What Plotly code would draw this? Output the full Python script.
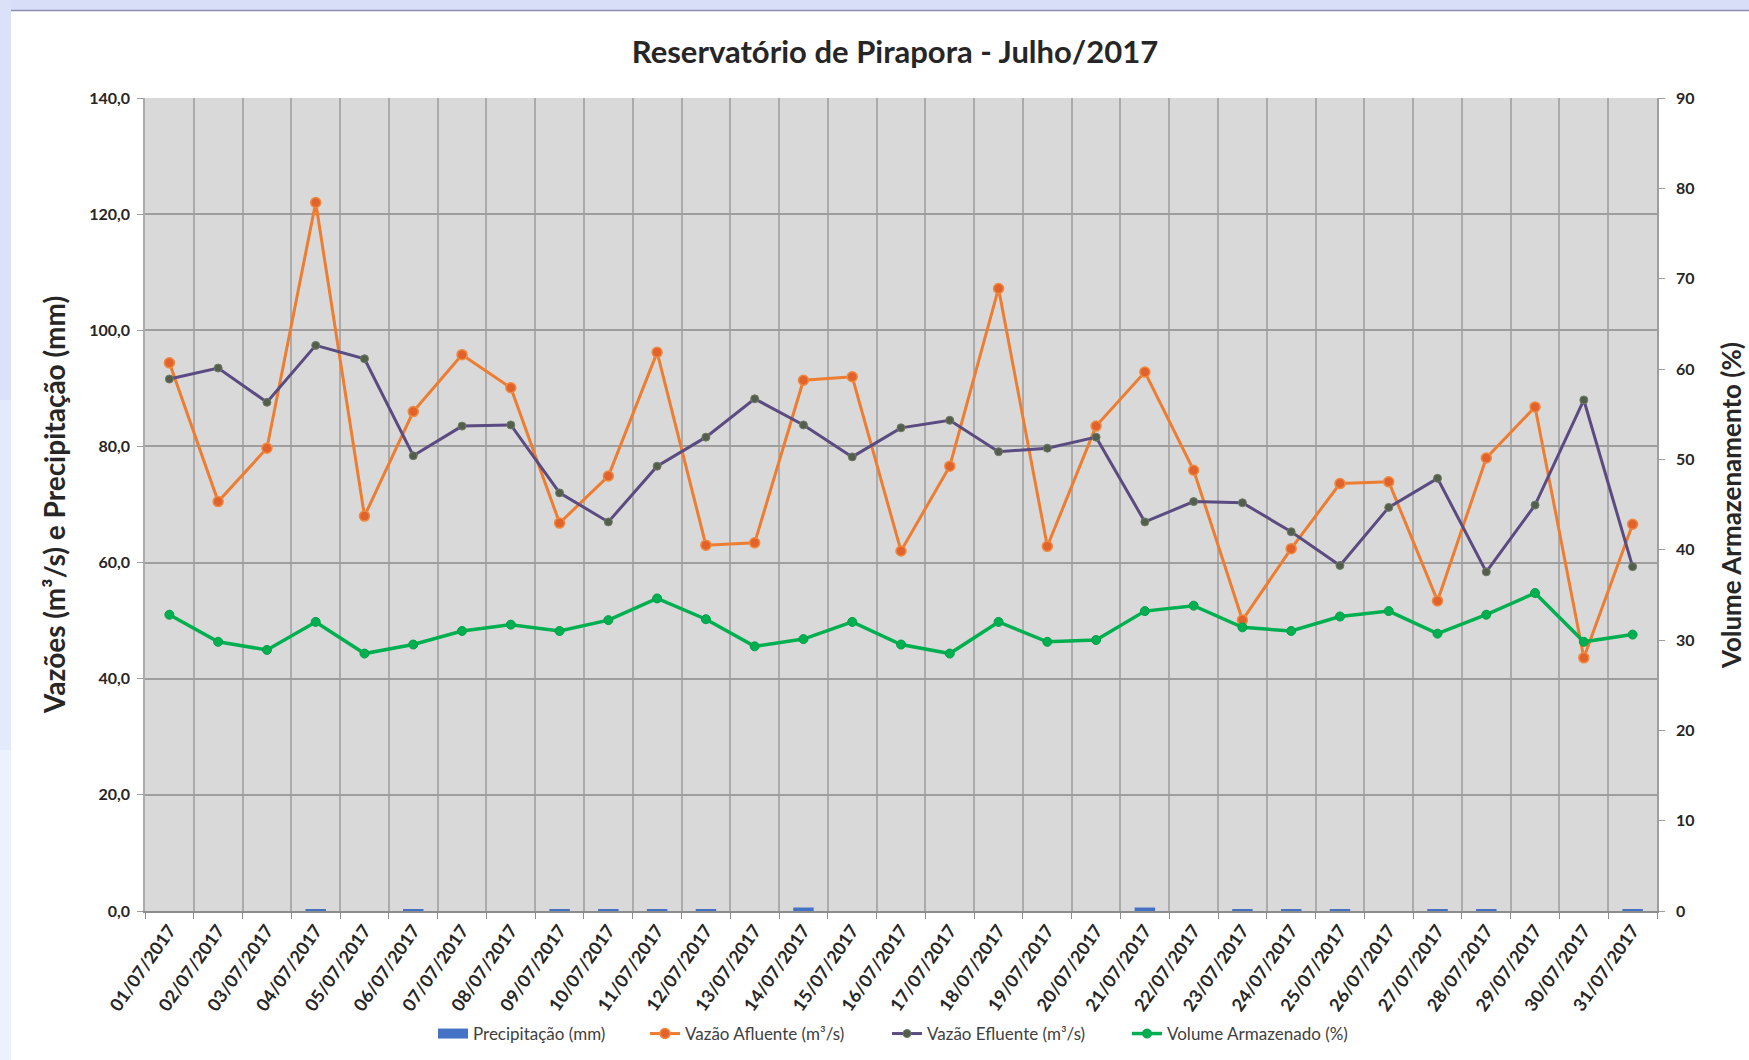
import plotly.graph_objects as go

dates = [f"{d:02d}/07/2017" for d in range(1, 32)]

precipitacao = [0, 0, 0, 0.3, 0, 0.3, 0, 0, 0.3, 0.3, 0.3, 0.3, 0, 0.6, 0, 0,
                0, 0, 0, 0, 0.6, 0, 0.3, 0.3, 0.3, 0, 0.3, 0.3, 0, 0, 0.3]

vazao_afluente = [94.4, 70.5, 79.7, 122.0, 68.0, 86.0, 95.8, 90.1, 66.8, 74.9,
                  96.2, 63.0, 63.4, 91.4, 92.0, 62.0, 76.6, 107.2, 62.8, 83.5,
                  92.8, 75.9, 50.1, 62.4, 73.6, 73.9, 53.4, 78.0, 86.8, 43.6, 66.6]

vazao_efluente = [91.6, 93.5, 87.6, 97.4, 95.1, 78.4, 83.5, 83.7, 72.0, 67.0,
                  76.6, 81.6, 88.2, 83.7, 78.2, 83.2, 84.5, 79.1, 79.7, 81.6,
                  67.0, 70.5, 70.3, 65.3, 59.5, 69.5, 74.5, 58.4, 69.9, 88.0, 59.3]

volume = [32.8, 29.8, 28.9, 32.0, 28.5, 29.5, 31.0, 31.7, 31.0, 32.2,
          34.6, 32.3, 29.3, 30.1, 32.0, 29.5, 28.5, 32.0, 29.8, 30.0,
          33.2, 33.8, 31.4, 31.0, 32.6, 33.2, 30.7, 32.8, 35.2, 29.8, 30.6]

left_ticks = [0, 20, 40, 60, 80, 100, 120, 140]
right_ticks = [0, 10, 20, 30, 40, 50, 60, 70, 80, 90]

W, H = 1749, 1060
ML, MR, MT, MB = 145, 92, 98, 149
PW, PH = W - ML - MR, H - MT - MB


def px_x(px):
    return (px - ML) / PW


def px_y(py):
    return (H - MB - py) / PH


FONT = "Lato, 'Open Sans', sans-serif"
TXT = "#262626"
BLUE = "#4472C4"

fig = go.Figure()

fig.add_trace(go.Bar(
    x=dates, y=precipitacao, name="Precipitação (mm)", showlegend=False,
    legendgroup="p",
    marker=dict(color=BLUE, line=dict(width=0)), width=0.42,
))
# legend entry for the bars (wide rectangle swatch as in the original)
fig.add_trace(go.Scatter(
    x=[None], y=[None], name="Precipitação (mm)", mode="lines", legendgroup="p",
    line=dict(color=BLUE, width=10), legend="legend",
))
fig.add_trace(go.Scatter(
    x=dates, y=vazao_afluente, name="Vazão Afluente (m³/s)", mode="lines+markers",
    line=dict(color="#ED7D31", width=3), legend="legend2",
    marker=dict(size=10, color="#E2622B", line=dict(color="#F08A40", width=1.5)),
))
fig.add_trace(go.Scatter(
    x=dates, y=vazao_efluente, name="Vazão Efluente (m³/s)", mode="lines+markers",
    line=dict(color="#5A4B80", width=3), legend="legend3",
    marker=dict(size=8, color="#535E4C", line=dict(color="#6F7B66", width=1)),
))
fig.add_trace(go.Scatter(
    x=dates, y=volume, name="Volume Armazenado (%)", mode="lines+markers", yaxis="y2",
    line=dict(color="#00B050", width=3.5), legend="legend4",
    marker=dict(size=9, color="#00B050", line=dict(color="#00A048", width=1)),
))

shapes = [
    dict(type="rect", xref="paper", yref="paper", x0=px_x(0), x1=px_x(W), y0=px_y(0), y1=px_y(10),
         fillcolor="#d8def8", line=dict(width=0), layer="below"),
    dict(type="line", xref="paper", yref="paper", x0=px_x(10), x1=px_x(W), y0=px_y(10.5), y1=px_y(10.5),
         line=dict(color="#8a90ad", width=1.5), layer="below"),
    dict(type="rect", xref="paper", yref="paper", x0=px_x(0), x1=px_x(11), y0=px_y(0), y1=px_y(400),
         fillcolor="#dbe1f9", line=dict(width=0), layer="below"),
    dict(type="rect", xref="paper", yref="paper", x0=px_x(0), x1=px_x(11), y0=px_y(400), y1=px_y(750),
         fillcolor="#e4e9fb", line=dict(width=0), layer="below"),
    dict(type="rect", xref="paper", yref="paper", x0=px_x(0), x1=px_x(11), y0=px_y(750), y1=px_y(H),
         fillcolor="#edf1fd", line=dict(width=0), layer="below"),
]

annotations = [
    dict(text="<b>Vazões (m³/s) e Precipitação (mm)</b>", xref="paper", yref="paper",
         x=px_x(54), y=px_y(505), xanchor="center", yanchor="middle", textangle=-90,
         showarrow=False, font=dict(family=FONT, size=28, color=TXT)),
    dict(text="<b>Volume Armazenamento (%)</b>", xref="paper", yref="paper",
         x=px_x(1731), y=px_y(505), xanchor="center", yanchor="middle", textangle=-90,
         showarrow=False, font=dict(family=FONT, size=26, color=TXT)),
]

LEG_Y = px_y(1034)
leg_common = dict(orientation="h", y=LEG_Y, yanchor="middle", xanchor="left",
                  font=dict(family=FONT, size=17, color="#404040"),
                  bgcolor="rgba(0,0,0,0)", borderwidth=0)

fig.update_layout(
    width=W, height=H,
    margin=dict(l=ML, r=MR, t=MT, b=MB, autoexpand=False),
    paper_bgcolor="white",
    plot_bgcolor="#d9d9d9",
    separators=",.",
    title=dict(text="<b>Reservatório de Pirapora - Julho/2017</b>",
               x=895 / W, xanchor="center", y=1 - 52 / H, yanchor="middle",
               font=dict(family=FONT, size=31, color=TXT)),
    xaxis=dict(
        type="category", tickson="boundaries", tickangle=-55,
        showgrid=True, gridcolor="#ababab", gridwidth=1.5,
        ticks="outside", ticklen=6, tickcolor="#8c8c8c",
        showline=True, linecolor="#8c8c8c", linewidth=1.5,
        tickfont=dict(family=FONT, size=18, color=TXT, weight="bold"),
        automargin=False, range=[-0.5, 30.5],
    ),
    yaxis=dict(
        range=[0, 140], tickvals=left_ticks, tickformat=".1f",
        showgrid=True, gridcolor="#9e9e9e", gridwidth=1.5,
        ticks="outside", ticklen=6, tickcolor="#9e9e9e",
        showline=True, linecolor="#ababab", linewidth=1.5,
        zeroline=False, ticklabelstandoff=4,
        tickfont=dict(family=FONT, size=16, color=TXT, weight="bold"),
        automargin=False,
    ),
    yaxis2=dict(
        range=[0, 90], tickvals=right_ticks, tickformat="d",
        overlaying="y", side="right", showgrid=False, zeroline=False,
        ticks="outside", ticklen=6, tickcolor="#9e9e9e",
        showline=True, linecolor="#9e9e9e", linewidth=1.5,
        ticklabelstandoff=8,
        tickfont=dict(family=FONT, size=16, color=TXT, weight="bold"),
        automargin=False,
    ),
    legend=dict(x=px_x(433), **leg_common),
    legend2=dict(x=px_x(645), **leg_common),
    legend3=dict(x=px_x(887), **leg_common),
    legend4=dict(x=px_x(1127), **leg_common),
    shapes=shapes,
    annotations=annotations,
)

fig.write_html("out.html", config={"displayModeBar": False},
               post_script="document.body.style.margin='0';document.body.style.overflow='hidden';")
